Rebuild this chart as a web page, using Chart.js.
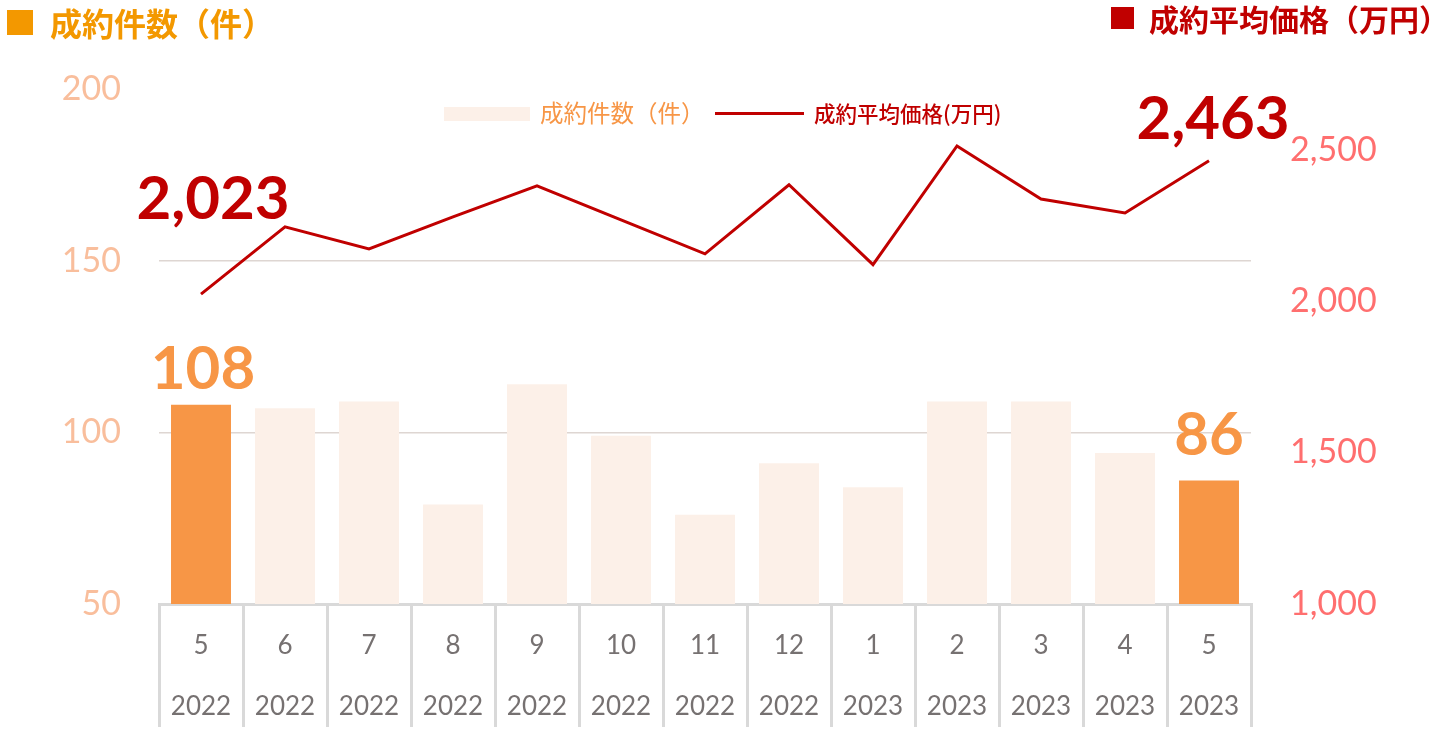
<!DOCTYPE html>
<html>
<head>
<meta charset="utf-8">
<script src="https://cdn.jsdelivr.net/npm/chart.js@4.4.0/dist/chart.umd.min.js"></script>
<style>
  html, body { margin: 0; padding: 0; background: #fff; }
  #wrap { position: relative; width: 1440px; height: 738px; overflow: hidden; }
  #chart { position: absolute; left: 0; top: 0; }
  .ttl { position: absolute; font-family: 'Noto Sans CJK JP', sans-serif; font-weight: bold; white-space: nowrap; line-height: 1; }
  .sq { position: absolute; }
  .lg { position: absolute; font-family: 'Noto Sans CJK JP', sans-serif; white-space: nowrap; line-height: 1; }
</style>
</head>
<body>
<div id="wrap">
  <canvas id="chart" width="1440" height="738"></canvas>
  <div class="sq" style="left:7px;top:10px;width:26px;height:25px;background:#F39800"></div>
  <div class="ttl" style="left:50px;top:6px;font-size:32px;color:#F39800">成約件数（件）</div>
  <div class="sq" style="left:1111px;top:7px;width:23px;height:22px;background:#C00000"></div>
  <div class="ttl" style="left:1149px;top:3px;font-size:30px;color:#C00000">成約平均価格（万円）</div>
  <div id="legend"></div>
</div>
<script>
// months and years along the x axis
const months = ['5', '6', '7', '8', '9', '10', '11', '12', '1', '2', '3', '4', '5'];
const years = ['2022', '2022', '2022', '2022', '2022', '2022', '2022', '2022', '2023', '2023', '2023', '2023', '2023'];

// 成約件数 (件)
const counts = [108, 107, 109, 79, 114, 99, 76, 91, 84, 109, 109, 94, 86];
// 成約平均価格 (万円)
const prices = [2023, 2245, 2172, 2278, 2380, 2268, 2156, 2384, 2120, 2512, 2337, 2291, 2463];

// first and last month are highlighted / labelled
const highlight = [0, 12];

const leftTicks = [50, 100, 150, 200];
const rightTicks = [1000, 1500, 2000, 2500];

const numFont = "Lato, 'Noto Sans', sans-serif";

const barColors = counts.map((v, i) => highlight.includes(i) ? '#F79646' : '#FCF0E8');

const valueLabels = {
  id: 'valueLabels',
  afterDatasetsDraw(chart) {
    const ctx = chart.ctx;
    chart.data.datasets.forEach((ds, di) => {
      const meta = chart.getDatasetMeta(di);
      ds.labelAt.forEach((idx, k) => {
        const el = meta.data[idx];
        const off = ds.labelOffset[k];
        ctx.save();
        ctx.font = 'bold 60px ' + numFont;
        ctx.fillStyle = ds.labelColor;
        ctx.textAlign = 'center';
        ctx.textBaseline = 'middle';
        ctx.fillText(ds.data[idx].toLocaleString('en-US'), el.x + off[0], el.y + off[1]);
        ctx.restore();
      });
    });
  }
};

const chart = new Chart(document.getElementById('chart'), {
  type: 'bar',
  data: {
    labels: months.map((m, i) => [m, years[i]]),
    datasets: [
      {
        type: 'line',
        label: '成約平均価格(万円)',
        data: prices,
        yAxisID: 'y2',
        borderColor: '#C00000',
        borderWidth: 3,
        pointRadius: 0,
        tension: 0,
        order: 0,
        labelAt: highlight,
        labelOffset: [[12, -94], [4, -41]],
        labelColor: '#C00000',
        legendText: '#C00000'
      },
      {
        type: 'bar',
        label: '成約件数（件）',
        data: counts,
        yAxisID: 'y',
        backgroundColor: barColors,
        barPercentage: 0.714,
        categoryPercentage: 1,
        order: 1,
        labelAt: highlight,
        labelOffset: [[2, -35], [0, -45]],
        labelColor: '#F79646',
        legendText: '#F79646'
      }
    ]
  },
  options: {
    responsive: false,
    animation: false,
    layout: { padding: { top: 89, left: 0, right: 0, bottom: 0 } },
    plugins: {
      legend: { display: false },
      tooltip: { enabled: false }
    },
    scales: {
      x: {
        offset: true,
        grid: {
          offset: true,
          drawOnChartArea: false,
          drawTicks: true,
          tickLength: 123,
          color: '#D9D9D9',
          lineWidth: 3
        },
        border: { display: true, color: '#D9D9D9', width: 3 },
        ticks: {
          color: '#767171',
          padding: -112,
          font: { family: numFont, size: 26, lineHeight: 2.35 },
          maxRotation: 0,
          autoSkip: false
        },
        afterFit(s) { s.height = 134; }
      },
      y: {
        position: 'left',
        min: 50,
        max: 200,
        afterBuildTicks(s) { s.ticks = leftTicks.map(v => ({ value: v })); },
        grid: {
          drawTicks: false,
          color: c => (c.tick && (c.tick.value === 100 || c.tick.value === 150)) ? '#DED6D2' : 'rgba(0,0,0,0)',
          lineWidth: 1.5
        },
        border: { display: false },
        ticks: { color: '#F9BE9C', padding: 38, font: { family: numFont, size: 34 } },
        afterFit(s) { s.width = 159; }
      },
      y2: {
        position: 'right',
        min: 1000,
        max: 2700,
        afterBuildTicks(s) { s.ticks = rightTicks.map(v => ({ value: v })); },
        grid: { display: false, drawTicks: false },
        border: { display: false },
        ticks: {
          color: '#FF6F6F',
          padding: 39,
          font: { family: numFont, size: 34 },
          callback: v => Number(v).toLocaleString('en-US')
        },
        afterFit(s) { s.width = 189; }
      }
    }
  },
  plugins: [valueLabels]
});

// legend in the plot area, built from the datasets
const legend = document.getElementById('legend');
const barDs = chart.data.datasets[1];
const lineDs = chart.data.datasets[0];
legend.innerHTML =
  '<div class="sq" style="left:444px;top:107px;width:86px;height:14px;background:#FCF0E8"></div>' +
  '<div class="lg" style="left:540px;top:101px;font-size:23.5px;color:' + barDs.legendText + '">' + barDs.label + '</div>' +
  '<div class="sq" style="left:715px;top:112px;width:89px;height:3px;background:' + lineDs.borderColor + '"></div>' +
  '<div class="lg" style="left:814px;top:102px;font-size:21.5px;font-weight:500;color:' + lineDs.legendText + '">' + lineDs.label + '</div>';
</script>
</body>
</html>
